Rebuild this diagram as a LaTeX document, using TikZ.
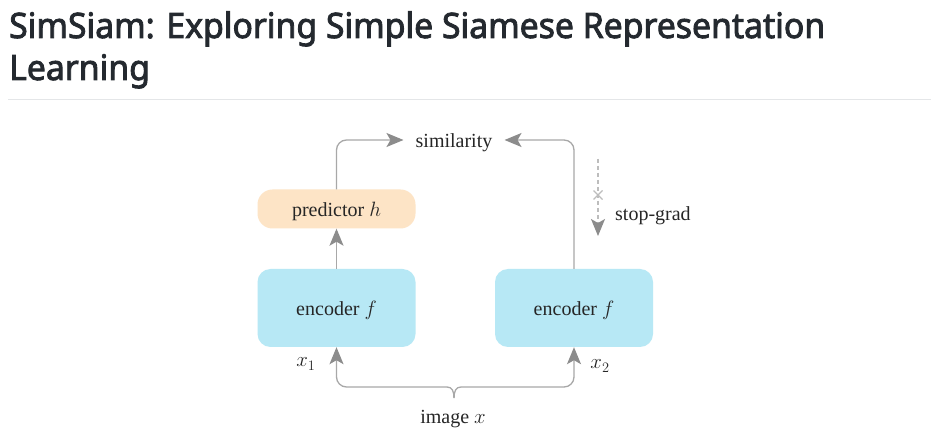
\documentclass[tikz,border=0pt]{standalone}
\usepackage{fontspec}
\setmainfont{Liberation Serif}
\newfontfamily\titlefont[FakeBold=2.5]{Noto Sans}
\usetikzlibrary{arrows.meta,calc}
\definecolor{titlecol}{HTML}{24292F}
\definecolor{rulecol}{HTML}{E4E6E8}
\definecolor{linecol}{HTML}{A8A8A8}
\definecolor{tipcol}{HTML}{8C8C8C}
\definecolor{dashcol}{HTML}{BDBDBD}
\definecolor{predfill}{HTML}{FDE4C6}
\definecolor{encfill}{HTML}{B7E8F5}
\definecolor{txtcol}{HTML}{262626}
\tikzset{
  gline/.style={draw=linecol, line width=1.3pt},
  gtip/.style={-{Stealth[length=17pt,width=14pt,inset=4pt,color=tipcol]}},
  garrow/.style={gline, gtip},
  blockbox/.style={rounded corners=13pt, minimum width=158pt, minimum height=78pt, inner sep=0pt, fill=encfill, text height=16pt, text depth=0pt},
  predbox/.style={rounded corners=15pt, minimum width=158pt, minimum height=39pt, inner sep=0pt, fill=predfill, text height=16pt, text depth=0pt},
  lbl/.style={font=\fontsize{20}{23}\selectfont, text=txtcol, inner sep=0pt}
}
\begin{document}
\begin{tikzpicture}[x=1pt,y=-1pt]
\useasboundingbox (0,0) rectangle (945,435);
\fill[white] (0,0) rectangle (945,435);
% title
\node[anchor=base west, inner sep=0pt, text=titlecol] (title) at (9,38)
  {\resizebox{816pt}{\height}{\titlefont\fontsize{35}{42}\selectfont\begin{tabular}[t]{@{}l@{}}SimSiam: Exploring Simple Siamese Representation\\Learning\end{tabular}}};
\coordinate (ruleL) at (8,100);
\coordinate (ruleR) at (931,100);
\draw[rulecol, line width=1pt] (ruleL) -- (ruleR);
% blocks
\node[predbox, lbl] (pred) at (336.5,209) {predictor $h$};
\node[blockbox, lbl] (encL) at (336.5,308) {encoder $f$};
\node[blockbox, lbl] (encR) at (574,308) {encoder $f$};
\node[lbl, inner xsep=12pt, text height=16pt, text depth=0pt] (sim) at (454,140) {similarity};
% connectors
\draw[garrow, rounded corners=10pt] (pred.north) |- (sim.west);
\draw[garrow, rounded corners=10pt] (encR.north) |- (sim.east);
\draw[garrow] (encL.north) -- (pred.south);
% stop-grad
\coordinate (sgTop) at (598,159);
\coordinate (sgBot) at (598,236);
\coordinate (sgX) at (598,195);
\draw[draw=dashcol, line width=1.1pt, dash pattern=on 4pt off 3pt, gtip] (sgTop) -- (sgBot);
\draw[draw=dashcol, line width=1.1pt] ($(sgX)+(-4.5,-4.5)$) -- ($(sgX)+(4.5,4.5)$);
\draw[draw=dashcol, line width=1.1pt] ($(sgX)+(-4.5,4.5)$) -- ($(sgX)+(4.5,-4.5)$);
\node[lbl, anchor=west, text height=16pt, text depth=0pt] (sg) at (615,213) {stop-grad};
% bottom brace
\coordinate (brace) at (454,398);
\coordinate (brL) at (447,387);
\coordinate (brR) at (461,387);
\draw[gline] (brL) .. controls (452,387) and (454,391) .. (brace);
\draw[gline] (brR) .. controls (456,387) and (454,391) .. (brace);
\draw[garrow, rounded corners=10pt] (brL) -| (encL.south);
\draw[garrow, rounded corners=10pt] (brR) -| (encR.south);
\node[lbl] (x1) at (306,364) {$x_1$};
\node[lbl] (x2) at (600,366) {$x_2$};
\node[lbl, text height=16pt, text depth=0pt] (img) at (453,415) {image $x$};
\end{tikzpicture}
\end{document}
